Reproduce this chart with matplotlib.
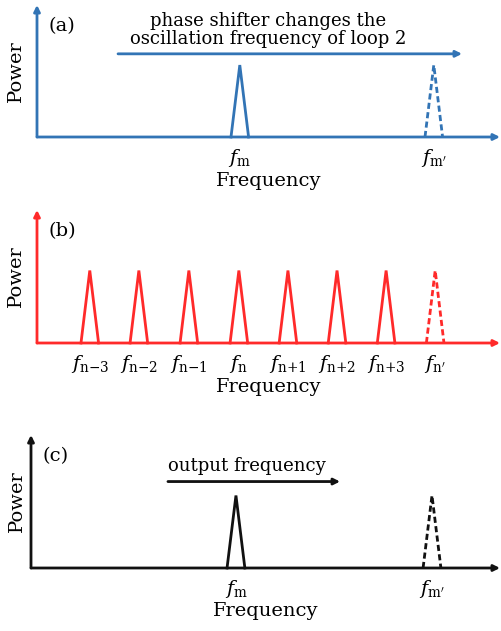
import matplotlib.pyplot as plt

plt.rcParams['font.family'] = 'serif'
plt.rcParams['font.serif'] = ['DejaVu Serif']
plt.rcParams['mathtext.fontset'] = 'dejavuserif'

# --- data (frequency axis in arbitrary units 0..100, power 0..1) ---
a_peaks = [43.8, 85.7]
a_labels = [r'$f_{\mathrm{m}}$', r"$f_{\mathrm{m}'}$"]
a_dashed = [False, True]

b_peaks = [11.4, 22.0, 32.8, 43.6, 54.2, 64.8, 75.4, 86.0]
b_labels = [r'$f_{\mathrm{n}\text{−}3}$', r'$f_{\mathrm{n}\text{−}2}$', r'$f_{\mathrm{n}\text{−}1}$',
            r'$f_{\mathrm{n}}$', r'$f_{\mathrm{n}\text{+}1}$', r'$f_{\mathrm{n}\text{+}2}$',
            r'$f_{\mathrm{n}\text{+}3}$', r"$f_{\mathrm{n}'}$"]
b_dashed = [False] * 7 + [True]

c_peaks = [43.7, 85.5]
c_labels = [r'$f_{\mathrm{m}}$', r"$f_{\mathrm{m}'}$"]
c_dashed = [False, True]

peak_height = 0.545
half_width = 1.9

W, H = 501, 631
fig = plt.figure(figsize=(W / 100, H / 100), dpi=100)


def panel(left, baseline, top, peaks, labels, dashed, color, tag, ylabelpad):
    ax = fig.add_axes([left / W, (H - baseline) / H, (500 - left) / W, (baseline - top) / H])
    ax.set_xlim(0, 100)
    ax.set_ylim(0, 1)
    for s in ax.spines.values():
        s.set_visible(False)
    # axes with arrow heads
    ax.annotate('', xy=(1.0, 0), xytext=(0, 0), xycoords='axes fraction',
                arrowprops=dict(arrowstyle='-|>', color=color, lw=2, mutation_scale=9,
                                shrinkA=0, shrinkB=0))
    ax.annotate('', xy=(0, 1.0), xytext=(0, 0), xycoords='axes fraction',
                arrowprops=dict(arrowstyle='-|>', color=color, lw=2, mutation_scale=9,
                                shrinkA=0, shrinkB=0))
    for p, d in zip(peaks, dashed):
        ax.plot([p - half_width, p, p + half_width], [0, peak_height, 0], color=color, lw=2,
                ls=(0, (2.2, 1.2)) if d else '-', solid_joinstyle='miter', clip_on=False)
    ax.set_xticks(peaks)
    ax.set_xticklabels(labels, fontsize=14)
    ax.tick_params(axis='x', length=0, pad=7)
    ax.set_yticks([])
    ax.set_xlabel('Frequency', fontsize=14, labelpad=2)
    ax.set_ylabel('Power', fontsize=14, labelpad=ylabelpad)
    ax.text(0.025, 0.84, tag, transform=ax.transAxes, fontsize=14, va='center', ha='left')
    return ax


ax_a = panel(37, 137, 5, a_peaks, a_labels, a_dashed, '#3274b5', '(a)', 9)
ax_a.annotate('', xy=(91.8, 0.63), xytext=(17.5, 0.63),
              arrowprops=dict(arrowstyle='-|>', color='#3274b5', lw=2, mutation_scale=9,
                              shrinkA=0, shrinkB=0))
ax_a.text(50, 0.81, 'phase shifter changes the\noscillation frequency of loop 2',
          ha='center', va='center', fontsize=13, linespacing=1.05)

ax_b = panel(37, 343, 210, b_peaks, b_labels, b_dashed, '#ff2a2a', '(b)', 9)

ax_c = panel(31, 568, 435, c_peaks, c_labels, c_dashed, '#111111', '(c)', 4)
ax_c.annotate('', xy=(65.9, 0.65), xytext=(29.2, 0.65),
              arrowprops=dict(arrowstyle='-|>', color='#111111', lw=2, mutation_scale=9,
                              shrinkA=0, shrinkB=0))
ax_c.text(29.2, 0.765, 'output frequency', ha='left', va='center', fontsize=13)

fig.savefig('out.png', dpi=100)
